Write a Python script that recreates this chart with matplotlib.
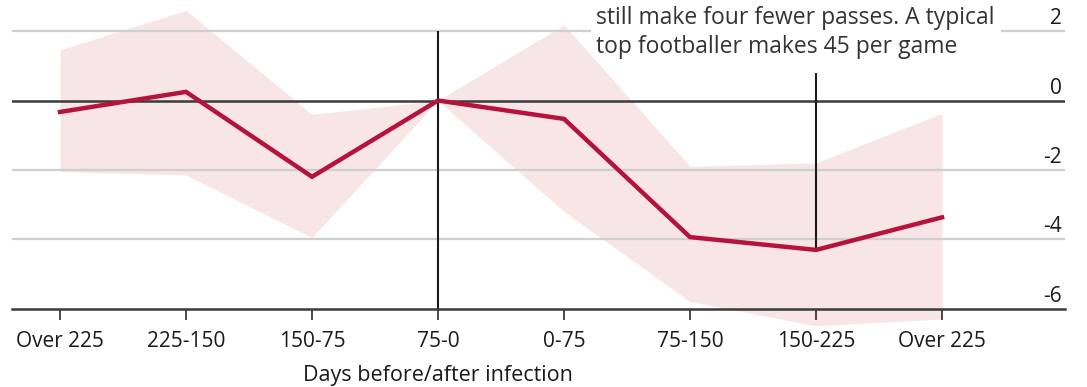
import matplotlib
matplotlib.use("Agg")
import matplotlib.pyplot as plt
import matplotlib.transforms as mtransforms

plt.rcParams['font.family'] = ['Open Sans', 'DejaVu Sans']

categories = ["Over 225", "225-150", "150-75", "75-0", "0-75", "75-150", "150-225", "Over 225"]
change = [-0.33, 0.25, -2.2, 0.0, -0.53, -3.94, -4.31, -3.37]
upper = [1.46, 2.6, -0.4, 0.0, 2.18, -1.9, -1.8, -0.37]
lower = [-2.05, -2.15, -3.95, 0.0, -3.2, -5.8, -6.5, -6.3]
yticks = [2, 0, -2, -4, -6]
xlabel = "Days before/after infection"
note = "still make four fewer passes. A typical\ntop footballer makes 45 per game"

RED = "#b5133b"
BAND = "#f8e5e5"

W, H = 1087, 387
fig = plt.figure(figsize=(W / 100, H / 100), dpi=100)
left_px, right_px, top_px, bottom_px = 12, 1065, 0, 308.5
ax = fig.add_axes([left_px / W, 1 - bottom_px / H, (right_px - left_px) / W, (bottom_px - top_px) / H])

x = list(range(len(categories)))
ax.set_xlim(-0.381, 7.976)
ax.set_ylim(-6, 2.9)

band = ax.fill_between(x, lower, upper, color=BAND, lw=0, zorder=1)
band.set_clip_on(False)

for v in yticks:
    if v == 0:
        ax.axhline(v, color="#3a3a3a", lw=1.8, zorder=2)
    elif v == -6:
        pass
    elif v == 2:
        # interrupted by the annotation text
        ax.axhline(v, xmin=0, xmax=0.549, color="#cfcfcf", lw=1.6, zorder=2)
        ax.axhline(v, xmin=0.940, xmax=1, color="#cfcfcf", lw=1.6, zorder=2)
    else:
        ax.axhline(v, color="#cfcfcf", lw=1.6, zorder=2)

# vertical marker at infection
i0 = categories.index("75-0")
ax.vlines(x[i0], yticks[-1], yticks[0], color="#1a1a1a", lw=1.5, zorder=3)
# pointer from annotation to the 150-225 point
i1 = 6
ax.vlines(x[i1], change[i1], 0.8, color="#1a1a1a", lw=1.5, zorder=3)

ax.plot(x, change, color=RED, lw=3.2, zorder=4, solid_joinstyle="miter")

for s in ["left", "right", "top"]:
    ax.spines[s].set_visible(False)
ax.spines["bottom"].set_color("#3a3a3a")
ax.spines["bottom"].set_linewidth(1.8)
ax.spines["bottom"].set_zorder(5)

ax.set_xticks(x)
ax.set_xticklabels(categories, fontsize=15, color="#1a1a1a")
ax.tick_params(axis="x", length=8, width=1.3, color="#3a3a3a", pad=8)

ax.set_yticks(yticks)
ax.set_yticklabels([str(v) for v in yticks])
ax.yaxis.tick_right()
ax.tick_params(axis="y", length=0, pad=-2, labelsize=15, labelcolor="#1a1a1a")
for lab in ax.get_yticklabels():
    lab.set_horizontalalignment("right")
    lab.set_verticalalignment("bottom")
    lab.set_transform(lab.get_transform() + mtransforms.ScaledTranslation(0, 2 / 100, fig.dpi_scale_trans))

t = ax.text(x[i0], -6, xlabel, ha="center", va="top", fontsize=15.5, color="#1a1a1a")
t.set_transform(ax.transData + mtransforms.ScaledTranslation(0, -56 / 100, fig.dpi_scale_trans))

ax.text(596 / W, 1 - 6 / H, note, transform=fig.transFigure, ha="left", va="top",
        fontsize=16.5, color="#333333", linespacing=1.3, zorder=6)

fig.savefig("out.png", dpi=100, facecolor="white")
